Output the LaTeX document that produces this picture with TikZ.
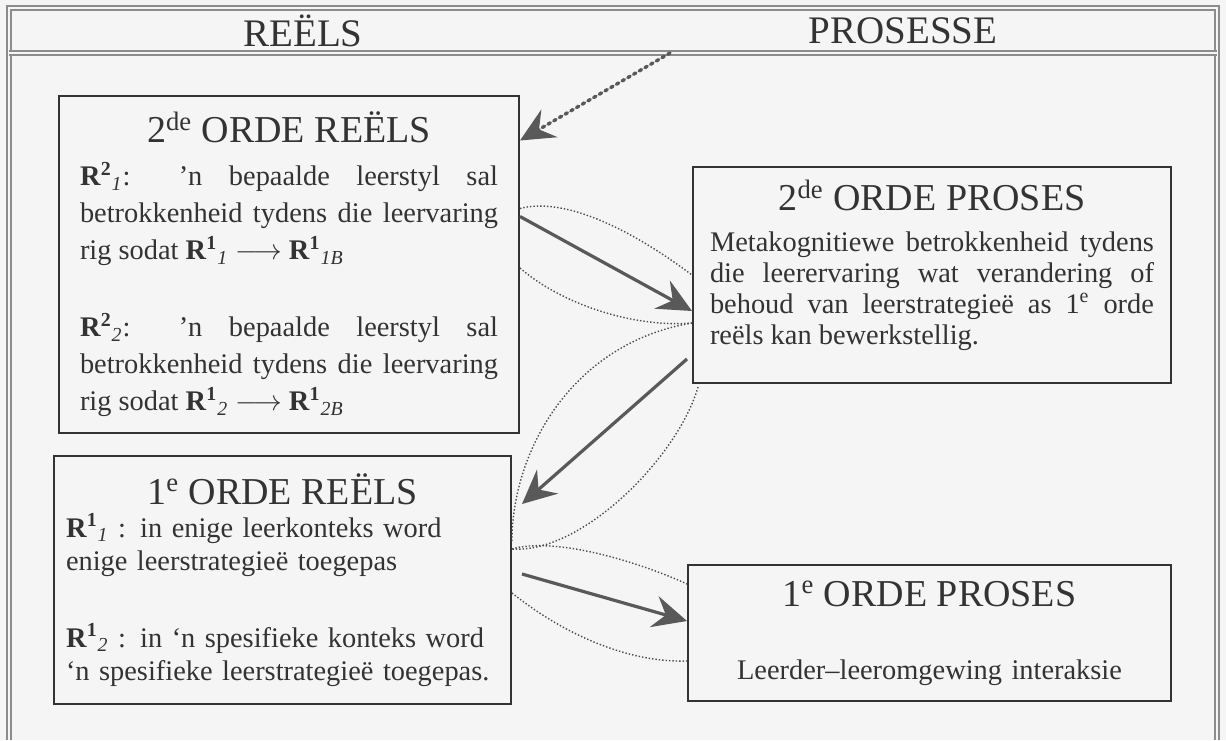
\documentclass[tikz,border=0pt]{standalone}
\usepackage{fontspec}
\setmainfont{Liberation Serif}
\usetikzlibrary{arrows.meta}

\newcommand\Rr[2]{\textbf{R}\textsuperscript{\textbf{#1}}\textsubscript{\textit{#2}}}
\newcommand\ttl[2][0pt]{{\centering\fontsize{19}{21}\selectfont #2\par}\vskip#1}
\hyphenpenalty=10000 \exhyphenpenalty=10000

\tikzset{
  box/.style={draw=black!80, line width=1pt, anchor=north west, inner ysep=0pt, text=black!80},
  pyl/.style={-{Stealth[length=17pt,width=16pt,inset=6pt]}, line width=1.6pt, draw=black!65},
  lens/.style={densely dotted, line width=0.7pt, draw=black!70},
  frame/.style={draw=black!45, double=black!4, double distance=1.2pt, line width=0.7pt}
}

\begin{document}
\begin{tikzpicture}[x=0.5pt,y=-0.5pt]
\useasboundingbox (0,0) rectangle (1226,740);
\fill[black!4] (0,0) rectangle (1226,740);

% raam en kopstuk
\draw[frame] (9,740) -- (9,8) -- (1217,8) -- (1217,740);
\draw[frame] (9,53) -- (1217,53);
\node[text=black!80, font=\fontsize{19.5}{21}\selectfont] (reels) at (303,31) {REËLS};
\node[text=black!80, font=\fontsize{19.5}{21}\selectfont] (prosesse) at (903,31) {PROSESSE};
\coordinate (kop) at (670,53);

% die vier blokke
\node[box, text width=209pt, inner xsep=10.5pt, minimum height=168.5pt, align=justify,
      font=\fontsize{14.2}{18.5}\selectfont] (R2) at (58,95) {%
  \ttl[3pt]{2\textsuperscript{de} ORDE REËLS}
  \Rr{2}{1}: ’n bepaalde leerstyl sal\linebreak
  betrokkenheid tydens die leervaring\linebreak
  rig sodat \Rr{1}{1} $\longrightarrow$ \Rr{1}{1B}\par\vskip20pt
  \Rr{2}{2}: ’n bepaalde leerstyl sal\linebreak
  betrokkenheid tydens die leervaring\linebreak
  rig sodat \Rr{1}{2} $\longrightarrow$ \Rr{1}{2B}\par};
\node[box, text width=222pt, inner xsep=8.5pt, minimum height=108pt, align=justify,
      font=\fontsize{14.2}{15.5}\selectfont] (P2) at (692,166) {%
  \ttl[4.75pt]{2\textsuperscript{de} ORDE PROSES}
  Metakognitiewe betrokkenheid tydens\linebreak
  die leerervaring wat verandering of\linebreak
  behoud van leerstrategieë as 1\textsuperscript{e} orde\linebreak
  reëls kan bewerkstellig.\par\nointerlineskip\noindent\rule{0pt}{10pt}\par};
\node[box, text width=216.5pt, inner xsep=6pt, minimum height=124pt, align=left,
      font=\fontsize{14.2}{16.5}\selectfont] (R1) at (53,455) {%
  \ttl{1\textsuperscript{e} ORDE REËLS}
  \Rr{1}{1} : in enige leerkonteks word\\
  enige leerstrategieë toegepas\par\vskip22pt
  \Rr{1}{2} : in ‘n spesifieke konteks word\\
  ‘n spesifieke leerstrategieë toegepas.\par};
\node[box, text width=221.5pt, inner xsep=10pt, minimum height=68pt, align=center,
      font=\fontsize{14.2}{16}\selectfont] (P1) at (687,564) {%
  \ttl[20.5pt]{1\textsuperscript{e} ORDE PROSES}
  Leerder–leeromgewing interaksie\par};

% pyle
\draw[pyl, line width=1.7pt, dash pattern=on 1.3pt off 2pt, line cap=round]
  (kop) -- ([yshift=62pt]R2.east);
\draw[pyl] ([yshift=24pt]R2.east) -- ([yshift=-18pt]P2.west);
\draw[pyl] ([xshift=-2.5pt,yshift=-42pt]P2.west) -- ([xshift=5pt,yshift=38pt]R1.east);
\draw[pyl] ([xshift=5pt,yshift=3pt]R1.east) -- ([yshift=6pt]P1.west);

% gestippelde lense
\draw[lens] ([yshift=28pt]R2.east) .. controls +(45,-12) and +(-60,-45) .. (P2.west);
\draw[lens] ([yshift=-1.75pt]R2.east) .. controls +(40,35) and +(-60,5) .. ([yshift=-24pt]P2.west);
\draw[lens] ([yshift=-24pt]P2.west) .. controls +(-120,20) and +(0,-90) .. ([yshift=19.5pt]R1.east);
\draw[lens] ([xshift=3pt,yshift=-1.5pt]P2.south west) .. controls +(-20,70) and +(70,5) .. ([yshift=15.5pt]R1.east);
\draw[lens] ([yshift=15.5pt]R1.east) .. controls +(40,-12) and +(-55,-25) .. ([yshift=24.5pt]P1.west);
\draw[lens] ([yshift=-6.5pt]R1.east) .. controls +(50,40) and +(-60,2) .. ([yshift=-14pt]P1.west);
\end{tikzpicture}
\end{document}
